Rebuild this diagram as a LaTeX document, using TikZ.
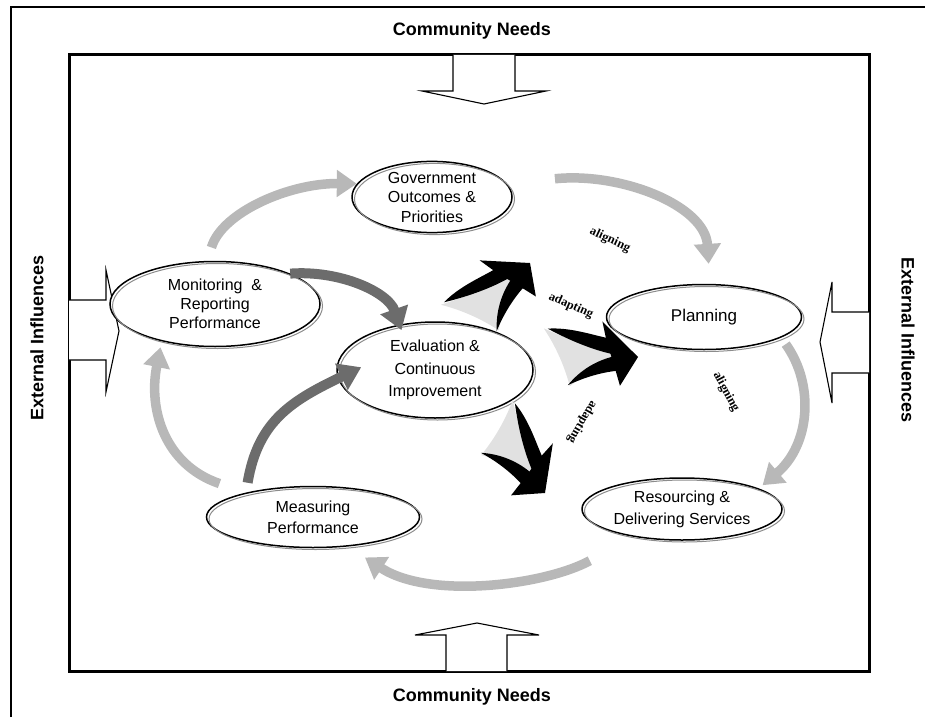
\documentclass[tikz,border=0pt]{standalone}
\usepackage{fontspec}
\setmainfont{Liberation Sans}
\newfontfamily\verbfont{Liberation Serif}
\usetikzlibrary{shapes.geometric,arrows.meta}

\definecolor{cyclegray}{RGB}{184,184,184}
\definecolor{feedgray}{RGB}{108,108,108}
\definecolor{swooshgray}{RGB}{225,225,225}
\definecolor{rimgray}{RGB}{140,140,140}

\tikzset{
  stage/.style={ellipse, draw=black, line width=1.5pt, fill=white, inner sep=0pt,
    align=center,
    postaction={draw=rimgray, fill=none, line width=1pt,
      transform canvas={shift={(2.5pt,-2pt)}}}},
  heading/.style={font=\fontsize{18}{20}\selectfont\bfseries, inner sep=0pt},
  verb/.style={font=\verbfont\fontsize{12.5}{14}\selectfont\bfseries, inner sep=0pt},
  blockarrow/.style={draw=black, fill=white, line width=1.1pt, line join=miter},
  cyc/.style={draw=cyclegray, line width=9.5pt,
    -{Triangle[width=26pt,length=20pt]}},
  feed/.style={draw=feedgray, line width=10pt,
    -{Triangle[width=28pt,length=22pt]}},
  swoosh/.pic={
    % light face of the ribbon
    \fill[swooshgray] (-96,-22) .. controls (-74,-14) and (-48,-6) .. (-26,-2)
      -- (-22,8) .. controls (-38,14) and (-54,22) .. (-66,34)
      .. controls (-72,16) and (-82,-4) .. cycle;
    % dark upper edge
    \fill[black] (-92,-22) .. controls (-70,-25) and (-48,-19) .. (-33,-17)
      -- (-25,-1) .. controls (-46,-4) and (-70,-12) .. cycle;
    % dark lower edge
    \fill[black] (-68,33) .. controls (-56,16) and (-40,6) .. (-24,1)
      -- (-19,15) .. controls (-36,18) and (-52,24) .. cycle;
    % head
    \fill[black] (0,0) -- (-38,-33) -- (-32,-12) -- (-24,8) -- (-16,30) -- cycle;
  }
}

\begin{document}
\begin{tikzpicture}[x=1pt,y=-1pt]
\useasboundingbox (0,0) rectangle (925,717);

% outer and inner frames
\draw[line width=2.5pt] (11,717) -- (11,7) -- (925,7);
\draw[line width=3pt] (69,55) rectangle (869,671);

% block arrows on the frame
\draw[blockarrow] (453,55) -- (453,91) -- (422,91) -- (484,104) -- (546,91) -- (515,91) -- (515,55);
\draw[blockarrow] (446,671) -- (446,635) -- (415,635) -- (477,623) -- (539,635) -- (507,635) -- (507,671);
\draw[blockarrow] (69,300) -- (106,300) -- (106,270) -- (119,331) -- (106,392) -- (106,360) -- (69,360);
\draw[blockarrow] (869,312) -- (832,312) -- (832,282) -- (820,342) -- (832,403) -- (832,373) -- (869,373);

% outer labels
\node[heading] (cntop) at (472,31) {Community Needs};
\node[heading] (cnbot) at (472,697) {Community Needs};
\node[heading, rotate=90] (exleft) at (37,338) {External Influences};
\node[heading, rotate=-90] (exright) at (908,340) {External Influences};

% stages
\node[stage, minimum width=160pt, minimum height=70pt,
  font=\fontsize{16}{19.5}\selectfont] (gov) at (432,197) {Government\\Outcomes \&\\Priorities};
\node[stage, minimum width=195pt, minimum height=65pt,
  font=\fontsize{17}{20}\selectfont] (plan) at (704,317) {Planning};
\node[stage, minimum width=210pt, minimum height=85pt,
  font=\fontsize{16}{19}\selectfont] (mon) at (215,304) {Monitoring \ \&\\Reporting\\Performance};
\node[stage, minimum width=196pt, minimum height=96pt,
  font=\fontsize{16}{22.5}\selectfont] (eval) at (435,370) {Evaluation \&\\Continuous\\Improvement};
\node[stage, minimum width=213pt, minimum height=61pt,
  font=\fontsize{16}{21}\selectfont] (meas) at (313,517) {Measuring\\Performance};
\node[stage, minimum width=200pt, minimum height=62pt,
  font=\fontsize{16}{22}\selectfont] (res) at (682,509) {Resourcing \&\\Delivering Services};

% main cycle
\draw[cyc, shorten <=14pt] (mon.100) .. controls (222,212) and (290,183) .. (gov.170);
\draw[cyc, shorten <=48pt, shorten >=20pt] (gov.10) .. controls (620,172) and (705,205) .. (plan.80);
\draw[cyc, shorten <=8pt, shorten >=5pt] (plan.-15) .. controls (815,385) and (810,445) .. (res.15);
\draw[cyc, shorten <=50pt, shorten >=20pt] (res.-150) .. controls (545,585) and (430,600) .. (meas.-40);
\draw[cyc, shorten <=28pt, shorten >=6pt] (meas.160) .. controls (165,465) and (148,410) .. (mon.-145);

% feedback into evaluation
\draw[feed, shorten >=-6pt] (mon.22) .. controls (340,270) and (388,292) .. (eval.128);
\draw[feed, shorten <=10pt, shorten >=-26pt] (meas.160) .. controls (258,420) and (293,400) .. (eval.185);

% outgoing swoosh arrows
\pic[rotate=38] at (530,263) {swoosh};
\pic[rotate=-4] at (638,357) {swoosh};
\pic[rotate=-58] at (545,493) {swoosh};

% verbs
\node[verb, rotate=-25] (v1) at (610,240) {aligning};
\node[verb, rotate=-24] (v2) at (571,306) {adapting};
\node[verb, rotate=-62] (v3) at (726,392) {aligning};
\node[verb, rotate=-120] (v4) at (582,422) {adapting};
\end{tikzpicture}
\end{document}
